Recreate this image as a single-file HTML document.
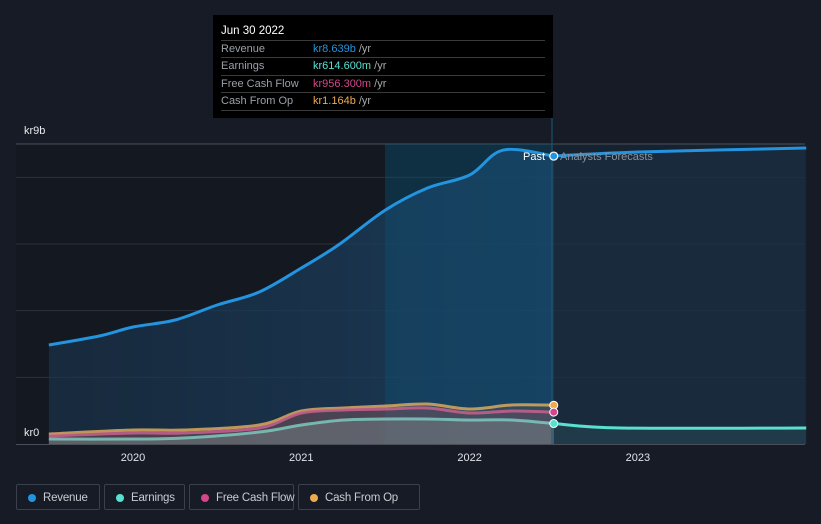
<!DOCTYPE html>
<html><head><meta charset="utf-8"><style>
body{margin:0;background:#161b26;font-family:"Liberation Sans",sans-serif;}
#wrap{position:relative;width:821px;height:524px;overflow:hidden;background:#161b26;}
svg{position:absolute;left:0;top:0;}
.tt{position:absolute;left:213px;top:15px;width:340px;height:103px;background:#000;color:#fff;font-size:11px;}
.tt .h{position:absolute;left:8px;top:10px;font-size:11.5px;}
.row{position:absolute;left:8px;width:324px;height:17px;border-top:1px solid #3a3a3a;color:#9aa0a8;line-height:17px;white-space:nowrap;}
.row span.v{position:absolute;left:92px;}
.row span.u{color:#aaa;}
.legend{position:absolute;top:484px;height:26px;border:1px solid #3b414c;border-radius:2px;color:#c8ccd2;font-size:11.5px;letter-spacing:-0.2px;line-height:26px;box-sizing:border-box;white-space:nowrap;}
.legend i{position:absolute;left:11px;top:9px;width:8px;height:8px;border-radius:50%;}
.legend span{position:absolute;left:26px;}
</style></head><body>
<div id="wrap">
<svg id="chart" width="821" height="524"></svg>
<div class="tt">
<div class="h">Jun 30 2022</div>
<div class="row" style="top:25px">Revenue<span class="v"><b style="font-weight:normal;color:#2394df">kr8.639b</b> <span class="u">/yr</span></span></div>
<div class="row" style="top:42px">Earnings<span class="v"><b style="font-weight:normal;color:#58e1d1">kr614.600m</b> <span class="u">/yr</span></span></div>
<div class="row" style="top:60px">Free Cash Flow<span class="v"><b style="font-weight:normal;color:#d2468c">kr956.300m</b> <span class="u">/yr</span></span></div>
<div class="row" style="top:77px;border-bottom:1px solid #3a3a3a">Cash From Op<span class="v"><b style="font-weight:normal;color:#eeaa4f">kr1.164b</b> <span class="u">/yr</span></span></div>
</div>
<div class="legend" style="left:16px;width:84px"><i style="background:#2394df"></i><span>Revenue</span></div>
<div class="legend" style="left:104px;width:81px"><i style="background:#58e1d1"></i><span>Earnings</span></div>
<div class="legend" style="left:189px;width:105px"><i style="background:#d2468c"></i><span>Free Cash Flow</span></div>
<div class="legend" style="left:298px;width:122px"><i style="background:#eeaa4f"></i><span>Cash From Op</span></div>
</div>
<script>
const revT=[2019.5,2019.8,2020.0,2020.25,2020.5,2020.75,2021.0,2021.22,2021.5,2021.75,2022.0,2022.2,2022.5];
const revV=[2.97,3.24,3.51,3.72,4.17,4.56,5.28,5.97,7.02,7.68,8.07,8.82,8.639];
const revFT=[2022.5,2023.0,2024.0];
const revFV=[8.639,8.76,8.88];
const pastT=[2019.5,2020.0,2020.3,2020.75,2021.0,2021.25,2021.5,2021.75,2022.0,2022.25,2022.5];
const earnV=[0.15,0.15,0.18,0.36,0.57,0.72,0.75,0.75,0.72,0.72,0.6146];
const fcfV=[0.24,0.33,0.33,0.48,0.93,1.02,1.05,1.08,0.93,0.99,0.9563];
const cfoV=[0.30,0.42,0.42,0.57,0.99,1.08,1.14,1.20,1.05,1.17,1.164];
const earnFT=[2022.5,2022.9,2024.0];
const earnFV=[0.6146,0.48,0.48];
const xTicks=[2020,2021,2022,2023];
const yLabels=["kr0","kr9b"];const yLabelVals=[0,9];
const grid=[2,4,6,8,9];

const svg=document.getElementById('chart');const NS='http://www.w3.org/2000/svg';
const X=t=>133+(t-2020)*168.3, Y=v=>444-v*33.33;
function mk(tag,a,name){const e=document.createElementNS(NS,tag);for(const k in a)e.setAttribute(k,a[k]);


svg.appendChild(e);return e;}
function path(ts,vs){let d='';const p=ts.map((t,i)=>[X(t),Y(vs[i])]);
d='M'+p[0][0]+','+p[0][1];
for(let i=1;i<p.length;i++){const p0=p[i-2]||p[i-1],p1=p[i-1],p2=p[i],p3=p[i+1]||p2;
const c1=[p1[0]+(p2[0]-p0[0])/6,p1[1]+(p2[1]-p0[1])/6],c2=[p2[0]-(p3[0]-p1[0])/6,p2[1]-(p3[1]-p1[1])/6];
d+=` C${c1[0]},${c1[1]} ${c2[0]},${c2[1]} ${p2[0]},${p2[1]}`;}return d;}
const defs=mk('defs',{},'defs');
defs.innerHTML='<linearGradient id="rg" x1="0" y1="0" x2="1" y2="0"><stop offset="0" stop-color="#1a3550" stop-opacity="0.6"/><stop offset="1" stop-color="#1b4060" stop-opacity="0.85"/></linearGradient>';
mk('rect',{x:16,y:144,width:369,height:300,fill:'#141820'},'past-bg');
mk('rect',{x:385,y:144,width:167,height:300,fill:'#10202c'},'highlight-bg');
mk('rect',{x:552,y:144,width:253,height:300,fill:'#172230'},'forecast-bg');
grid.forEach(g=>mk('line',{x1:16,x2:805,y1:Y(g),y2:Y(g),stroke:g==9?'#4a4f58':'#2a313c','stroke-width':1},'gridline'));
const rp=path(revT,revV);
mk('path',{d:rp+` L${X(2022.5)},444 L${X(2019.5)},444 Z`,fill:'url(#rg)'},'revenue-area');
mk('rect',{x:385,y:144,width:167,height:300,fill:'#0e5a80',opacity:0.28},'highlight-band');
mk('path',{d:path(revFT,revFV)+` L${X(2024)},444 L${X(2022.5)},444 Z`,fill:'#1a3045',opacity:0.6},'revenue-forecast-area');
mk('path',{d:path(pastT,cfoV)+` L${X(2022.5)},444 L${X(2019.5)},444 Z`,fill:'#8a6a4a',opacity:0.25},'cfo-area');
mk('path',{d:path(pastT,fcfV)+` L${X(2022.5)},444 L${X(2019.5)},444 Z`,fill:'#8a4a6a',opacity:0.25},'fcf-area');
mk('path',{d:path(pastT,earnV)+` L${X(2022.5)},444 L${X(2019.5)},444 Z`,fill:'#7a8a8a',opacity:0.45},'earnings-area');
mk('path',{d:path(earnFT,earnFV)+` L${X(2024)},444 L${X(2022.5)},444 Z`,fill:'#2a4a55',opacity:0.5},'earnings-forecast-area');
mk('line',{x1:552,x2:552,y1:118,y2:444,stroke:'#1e5a78','stroke-width':1},'divider');
mk('path',{d:rp,fill:'none',stroke:'#2394df','stroke-width':3},'revenue-line');
mk('path',{d:path(revFT,revFV),fill:'none',stroke:'#2394df','stroke-width':3},'revenue-forecast-line');
mk('path',{d:path(pastT,cfoV),fill:'none',stroke:'#d9a85e','stroke-width':3,opacity:0.85},'cfo-line');
mk('path',{d:path(pastT,fcfV),fill:'none',stroke:'#c9608e','stroke-width':3,opacity:0.85},'fcf-line');
mk('path',{d:path(pastT,earnV),fill:'none',stroke:'#7fd0c4','stroke-width':3,opacity:0.8},'earnings-line');
mk('path',{d:path(earnFT,earnFV),fill:'none',stroke:'#58e1d1','stroke-width':3},'earnings-forecast-line');
mk('line',{x1:16,x2:805,y1:444.5,y2:444.5,stroke:'#4a4f58'},'x-axis');
[[cfoV,'#eeaa4f','cfo-dot'],[fcfV,'#d2468c','fcf-dot'],[earnV,'#58e1d1','earnings-dot']].forEach(([v,c,n])=>mk('circle',{cx:X(2022.5),cy:Y(v[v.length-1]),r:4,fill:c,stroke:'#fff','stroke-width':1},n));
mk('circle',{cx:X(2022.5),cy:Y(revV[revV.length-1]),r:4,fill:'#2394df',stroke:'#fff','stroke-width':1.2},'revenue-dot');
let t=mk('text',{x:545,y:160,fill:'#fff','font-size':11,'text-anchor':'end'},'past-label');t.textContent='Past';
t=mk('text',{x:560,y:160,fill:'#8a929c','font-size':11},'forecast-label');t.textContent='Analysts Forecasts';
xTicks.forEach(y=>{const e=mk('text',{x:X(y),y:461,fill:'#e0e3e8','font-size':11,'text-anchor':'middle'},'x-tick-label');e.textContent=y;});
yLabels.forEach((l,i)=>{const e=mk('text',{x:24,y:yLabelVals[i]?Y(yLabelVals[i])-10:Y(0)-8,fill:'#e8eaee','font-size':11},'y-tick-label');e.textContent=l;});
</script>
</body></html>
